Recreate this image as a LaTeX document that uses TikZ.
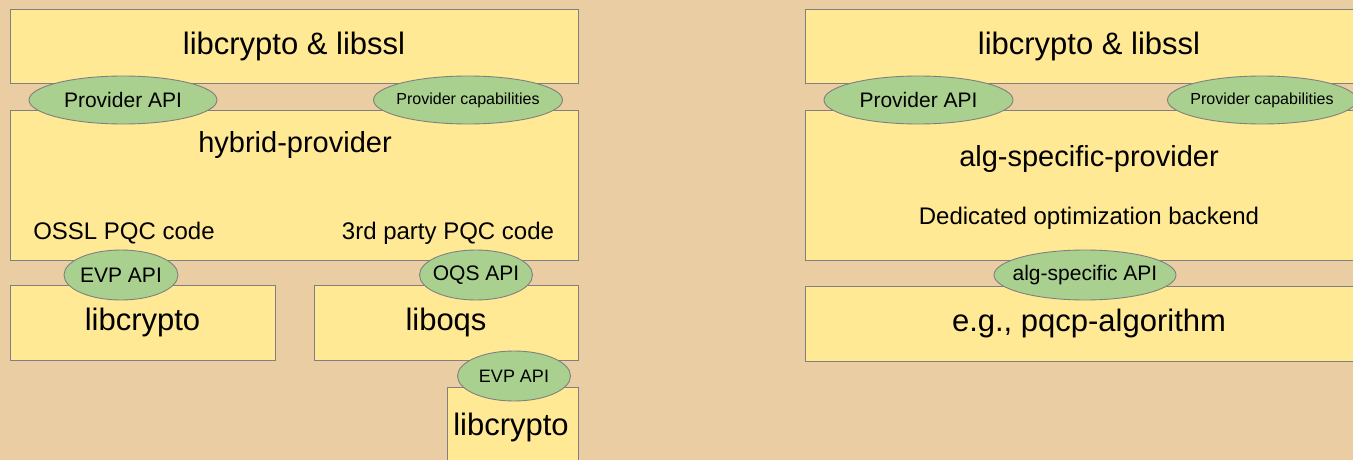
\documentclass[tikz,border=0pt]{standalone}
\usepackage{fontspec}
\setmainfont{Liberation Sans}
\usetikzlibrary{shapes.geometric}
\definecolor{parch}{RGB}{234,205,162}
\definecolor{boxyellow}{RGB}{255,233,148}
\definecolor{apigreen}{RGB}{169,208,142}
\definecolor{edgegray}{RGB}{128,128,128}
\newcommand{\zw}[1]{\makebox[0pt]{#1}}
\tikzset{
  layer/.style={draw=edgegray, line width=0.9pt, fill=boxyellow, rectangle, inner sep=0pt},
  api/.style={draw=edgegray, line width=0.9pt, fill=apigreen, ellipse, inner sep=0pt},
  big/.style={font=\fontsize{31}{36}\selectfont},
  mid/.style={font=\fontsize{29}{34}\selectfont},
  small/.style={font=\fontsize{24}{28}\selectfont},
  apitxt/.style={font=\fontsize{21}{25}\selectfont},
  apismall/.style={font=\fontsize{16}{19}\selectfont},
}
\begin{document}
\begin{tikzpicture}[x=1pt,y=-1pt]
\useasboundingbox (0,0) rectangle (1353,460);
\clip (0,0) rectangle (1353,460);
\fill[parch] (0,0) rectangle (1353,460);
% left side boxes
\node[layer, big, minimum width=568, minimum height=74] (ltop) at (294,46) {libcrypto \& libssl};
\node[layer, minimum width=568, minimum height=150] (hyb) at (294,185) {};
\node[mid] (hybt) at (295,145) {hybrid-provider};
\node[small] (ossl) at (124,233) {OSSL PQC code};
\node[small] (third) at (448,233) {3rd party PQC code};
\node[layer, big, minimum width=265, minimum height=75] (lcr) at (142.5,322.5) {libcrypto};
\node[layer, big, minimum width=264, minimum height=75] (oqs) at (446,322.5) {liboqs};
\node[layer, minimum width=131, minimum height=90] (lcr2) at (512.5,432) {};
\node[big] (lcr2t) at (511,427) {libcrypto};
% left side APIs
\node[api, apitxt, minimum width=188, minimum height=48] (lpapi) at (123,100) {\zw{Provider API}};
\node[api, apismall, minimum width=189, minimum height=48] (lpcap) at (468,100) {\zw{Provider capabilities}};
\node[api, apitxt, minimum width=114, minimum height=50] (evp1) at (121,275) {\zw{EVP API}};
\node[api, apitxt, minimum width=113, minimum height=50] (oqsapi) at (476,275) {\zw{OQS API}};
\node[api, font=\fontsize{18}{22}\selectfont, minimum width=113, minimum height=50] (evp2) at (514,376) {\zw{EVP API}};
% right side boxes
\node[layer, big, minimum width=568, minimum height=74] (rtop) at (1089,46) {libcrypto \& libssl};
\node[layer, minimum width=568, minimum height=150] (alg) at (1089,185) {};
\node[mid] (algt) at (1089,159) {alg-specific-provider};
\node[small] (ded) at (1089,218) {Dedicated optimization backend};
\node[layer, big, minimum width=568, minimum height=75] (pqcp) at (1089,323.5) {e.g., pqcp-algorithm};
% right side APIs
\node[api, apitxt, minimum width=189, minimum height=48] (rpapi) at (918.5,100) {\zw{Provider API}};
\node[api, apismall, minimum width=189, minimum height=48] (rpcap) at (1262,100) {\zw{Provider capabilities}};
\node[api, apitxt, minimum width=182, minimum height=50] (algapi) at (1085,275) {\zw{alg-specific API}};
\end{tikzpicture}
\end{document}
